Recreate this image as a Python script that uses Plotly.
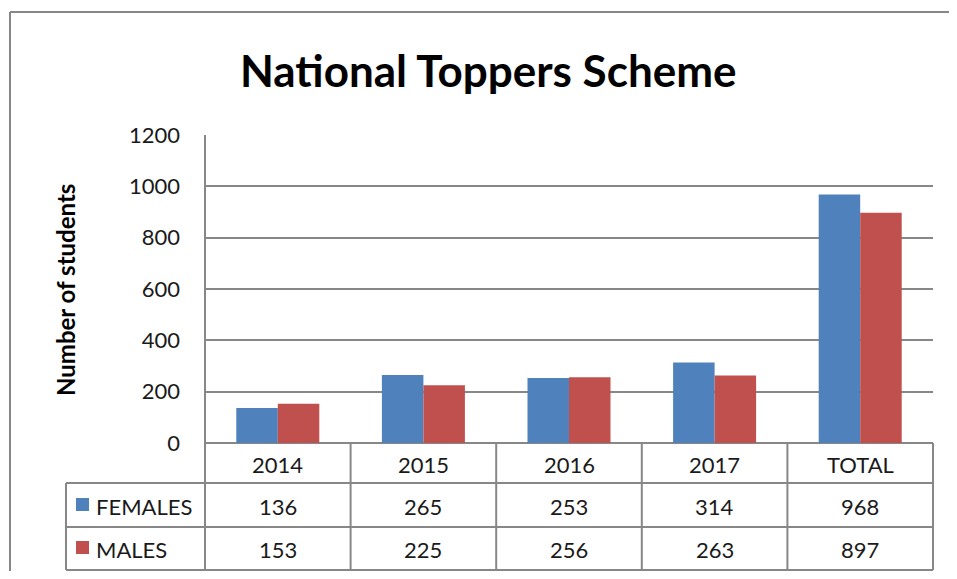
import plotly.graph_objects as go

categories = ["2014", "2015", "2016", "2017", "TOTAL"]
females = [136, 265, 253, 314, 968]
males = [153, 225, 256, 263, 897]
series_names = ["FEMALES", "MALES"]
series_colors = ["#4F81BD", "#C0504D"]

# page body has an 8px margin on every side, so the figure is drawn
# 16px smaller to keep the page from scrolling
W, H = 957, 579
OFF = 8
L, R, T, B = 205, 933, 135, 443
grid = "#878787"
font = "Lato"


def px_x(x):
    return (x - L) / (R - L)


def px_y(y):
    return (B - y) / (B - T)


fig = go.Figure()
for name, vals, col in zip(series_names, [females, males], series_colors):
    fig.add_trace(go.Bar(x=categories, y=vals, name=name, marker_color=col,
                         marker_line_width=0))

shapes = []


def hline(y, x0, x1):
    shapes.append(dict(type="line", xref="paper", yref="paper",
                       x0=px_x(x0), x1=px_x(x1), y0=px_y(y), y1=px_y(y),
                       line=dict(color=grid, width=2)))


def vline(x, y0, y1):
    shapes.append(dict(type="line", xref="paper", yref="paper",
                       x0=px_x(x), x1=px_x(x), y0=px_y(y0), y1=px_y(y1),
                       line=dict(color=grid, width=2)))


# data table grid
tab_left = 66
tab_bottom = 570
hline(483, tab_left, R)
hline(527, tab_left, R)
hline(tab_bottom, tab_left, R)
vline(tab_left, 483, tab_bottom)
vline(L, T, tab_bottom)
col_w = (R - L) / len(categories)
for i in range(1, len(categories) + 1):
    vline(L + i * col_w, 443, tab_bottom)

# outer chart border (only top and left edges are visible)
hline(12, 10, 960)
vline(10, 12, 600)

annotations = []
row_centers = [464, 506, 549]
for i, c in enumerate(categories):
    xc = px_x(L + (i + 0.5) * col_w)
    annotations.append(dict(x=xc, y=px_y(row_centers[0]), text=c))
    annotations.append(dict(x=xc, y=px_y(row_centers[1]), text=str(females[i])))
    annotations.append(dict(x=xc, y=px_y(row_centers[2]), text=str(males[i])))

for name, col, yc in zip(series_names, series_colors, row_centers[1:]):
    shapes.append(dict(type="rect", xref="paper", yref="paper",
                       x0=px_x(76), x1=px_x(89), y0=px_y(yc - 8), y1=px_y(yc + 5),
                       fillcolor=col, line_width=0))
    annotations.append(dict(x=px_x(94), y=px_y(yc), text=name, xanchor="left"))

for a in annotations:
    a.update(xref="paper", yref="paper", showarrow=False, yanchor="middle",
             font=dict(family=font, size=22, color="#1a1a1a"))
    a.setdefault("xanchor", "center")

annotations.append(dict(x=px_x(65), y=px_y(290), xref="paper", yref="paper",
                        xanchor="center", yanchor="middle",
                        text="<b>Number of students</b>", textangle=-90, showarrow=False,
                        font=dict(family=font, size=24, color="#000000")))
annotations.append(dict(x=px_x(488), y=px_y(70), xref="paper", yref="paper",
                        xanchor="center", yanchor="middle",
                        text="<b>National Toppers Scheme</b>", showarrow=False,
                        font=dict(family=font, size=44, color="#000000")))

fig_w, fig_h = W - 2 * OFF, H - 2 * OFF
fig.update_layout(
    width=fig_w, height=fig_h,
    margin=dict(l=L - OFF, r=fig_w - (R - OFF), t=T - OFF, b=fig_h - (B - OFF)),
    paper_bgcolor="white", plot_bgcolor="white",
    showlegend=False,
    barmode="group", bargap=0.43, bargroupgap=0,
    shapes=shapes, annotations=annotations,
    font=dict(family=font, size=22, color="#1a1a1a"),
)
fig.update_xaxes(showticklabels=False, showgrid=False, showline=False,
                 range=[-0.5, len(categories) - 0.5])
fig.update_yaxes(range=[0, 1200], dtick=200, showgrid=True, gridcolor=grid,
                 gridwidth=2, zeroline=True, zerolinecolor=grid, zerolinewidth=2,
                 showline=False, ticks="", ticklabelstandoff=24,
                 tickfont=dict(family=font, size=22, color="#1a1a1a"))

fig.write_html("out.html")
